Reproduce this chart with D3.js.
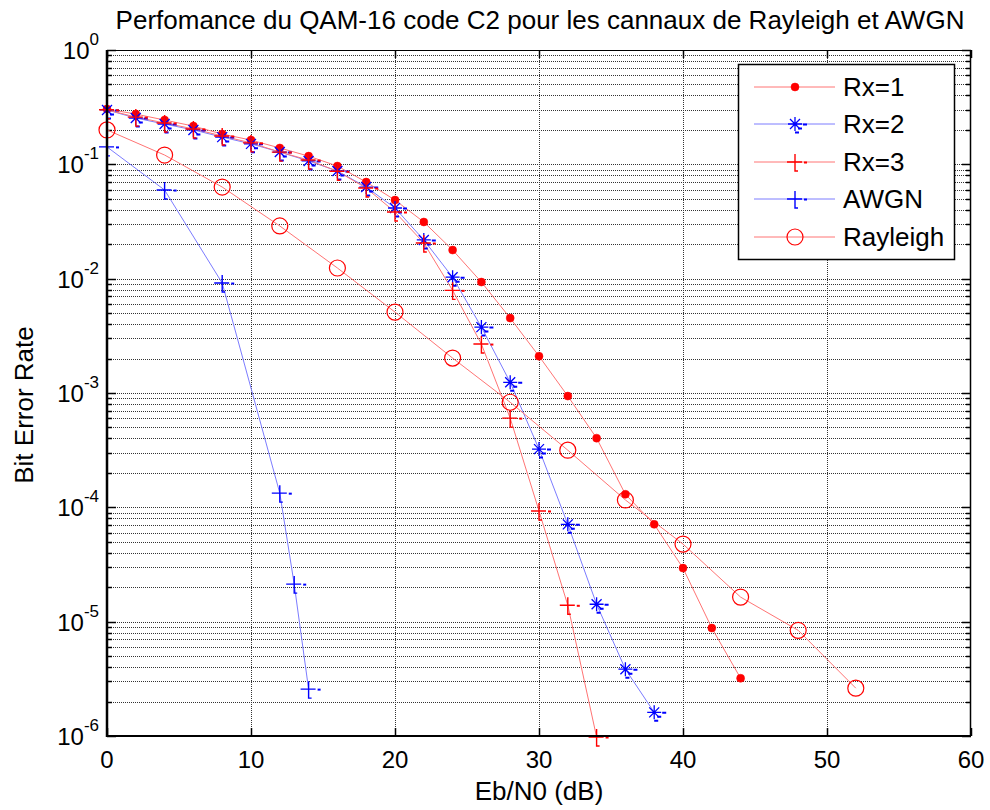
<!DOCTYPE html>
<html>
<head>
<meta charset="utf-8">
<script src="https://cdn.jsdelivr.net/npm/d3@7"></script>
<style>
  html, body { margin: 0; padding: 0; background: #fff; }
  svg { display: block; }
  text { font-family: "Liberation Sans", Arial, sans-serif; fill: #000; }
</style>
</head>
<body>
<svg id="chart" width="990" height="810"></svg>
<script>
// ---------------- data ----------------
const titleText = "Perfomance du QAM-16 code C2 pour les cannaux de Rayleigh et AWGN";
const xLabelText = "Eb/N0 (dB)";
const yLabelText = "Bit Error Rate";
const xTicks = [0, 10, 20, 30, 40, 50, 60];
const yExponents = [0, -1, -2, -3, -4, -5, -6];

const rx1X = [0, 2, 4, 6, 8, 10, 12, 14, 16, 18, 20, 22, 24, 26, 28, 30, 32, 34, 36, 38, 40, 42, 44];
const rx1Y = [0.305, 0.275, 0.244, 0.216, 0.184, 0.163, 0.139, 0.118, 0.0966, 0.070, 0.0487, 0.0313, 0.0178, 0.00934, 0.00452, 0.0021, 0.00094, 0.000403, 0.000130, 7.1e-5, 2.94e-5, 8.8e-6, 3.2e-6];

const rx2X = [0, 2, 4, 6, 8, 10, 12, 14, 16, 18, 20, 22, 24, 26, 28, 30, 32, 34, 36, 38];
const rx2Y = [0.299, 0.254, 0.225, 0.200, 0.173, 0.151, 0.128, 0.107, 0.0874, 0.0633, 0.0415, 0.0218, 0.0103, 0.00377, 0.00124, 0.000323, 7.1e-5, 1.42e-5, 3.84e-6, 1.61e-6];

const rx3X = [0, 2, 4, 6, 8, 10, 12, 14, 16, 18, 20, 22, 24, 26, 28, 30, 32, 34];
const rx3Y = [0.300, 0.259, 0.230, 0.204, 0.177, 0.154, 0.128, 0.109, 0.087, 0.062, 0.0383, 0.0205, 0.0079, 0.00268, 0.000603, 9.3e-5, 1.39e-5, 9.8e-7];

const awgnX = [0, 4, 8, 12, 13, 14];
const awgnY = [0.142, 0.0596, 0.00916, 0.000133, 2.13e-5, 2.57e-6];

const rayX = [0, 4, 8, 12, 16, 20, 24, 28, 32, 36, 40, 44, 48, 52];
const rayY = [0.200, 0.1206, 0.0633, 0.0289, 0.0124, 0.0051, 0.00202, 0.00083, 0.000316, 0.000116, 4.77e-5, 1.64e-5, 8.4e-6, 2.62e-6];

const seriesNames = ["Rx=1", "Rx=2", "Rx=3", "AWGN", "Rayleigh"];

// ---------------- layout ----------------
const svg = d3.select("#chart");
const L = 107, R = 971, T = 50, B = 736;
const x = d3.scaleLinear().domain([0, 60]).range([L, R]);
const y = d3.scaleLog().domain([1e-6, 1]).range([B, T]);

const RED = "#ff0000", BLUE = "#0000ff";
const RED_LINE = "#ff7474", BLUE_LINE = "#7c7cff";

const series = [
  { name: seriesNames[0], xs: rx1X, ys: rx1Y, color: RED, line: RED_LINE, marker: "dot" },
  { name: seriesNames[1], xs: rx2X, ys: rx2Y, color: BLUE, line: BLUE_LINE, marker: "star" },
  { name: seriesNames[2], xs: rx3X, ys: rx3Y, color: RED, line: RED_LINE, marker: "plus" },
  { name: seriesNames[3], xs: awgnX, ys: awgnY, color: BLUE, line: BLUE_LINE, marker: "plus" },
  { name: seriesNames[4], xs: rayX, ys: rayY, color: RED, line: RED_LINE, marker: "circle" }
];

// ---------------- grid ----------------
const grid = svg.append("g");
const minorVals = [];
for (let e = -6; e < 0; e++) {
  for (let m = 1; m <= 9; m++) minorVals.push(m * Math.pow(10, e));
}
minorVals.push(1);
grid.selectAll("line.h").data(minorVals).enter().append("line")
  .attr("x1", L).attr("x2", R)
  .attr("y1", d => Math.round(y(d)) + 0.5).attr("y2", d => Math.round(y(d)) + 0.5)
  .attr("stroke", "#333").attr("stroke-width", 1).attr("stroke-dasharray", "1,1");
grid.selectAll("line.v").data(xTicks.slice(1, -1)).enter().append("line")
  .attr("y1", T).attr("y2", B)
  .attr("x1", d => Math.round(x(d)) + 0.5).attr("x2", d => Math.round(x(d)) + 0.5)
  .attr("stroke", "#333").attr("stroke-width", 1).attr("stroke-dasharray", "1,1");

// ---------------- ticks ----------------
const ticks = svg.append("g").attr("stroke", "#000");
minorVals.forEach(v => {
  const isMajor = Math.abs(Math.log10(v) - Math.round(Math.log10(v))) < 1e-9;
  const len = isMajor ? 9 : 5;
  const yy = Math.round(y(v)) + 0.5;
  ticks.append("line").attr("x1", L).attr("x2", L + len).attr("y1", yy).attr("y2", yy).attr("stroke-width", 1.5);
  ticks.append("line").attr("x1", R).attr("x2", R - len).attr("y1", yy).attr("y2", yy).attr("stroke-width", 1.5);
});
xTicks.forEach(v => {
  const xx = Math.round(x(v)) + 0.5;
  ticks.append("line").attr("x1", xx).attr("x2", xx).attr("y1", B).attr("y2", B - 8).attr("stroke-width", 1.5);
  ticks.append("line").attr("x1", xx).attr("x2", xx).attr("y1", T).attr("y2", T + 8).attr("stroke-width", 1.5);
});

// ---------------- series ----------------
const lineGen = d3.line().x(d => x(d[0])).y(d => y(d[1]));
const plotG = svg.append("g");

function plusPath(s) {
  return `M${-8*s},0H${7*s}M0,${-8*s}V${9*s}H${3*s}`;
}
function drawMarker(g, type, color) {
  if (type === "dot") {
    g.append("circle").attr("r", 4).attr("fill", color).attr("stroke", color).attr("stroke-width", 0.5);
  } else if (type === "circle") {
    g.append("circle").attr("r", 8).attr("fill", "none").attr("stroke", color).attr("stroke-width", 1.2);
  } else if (type === "plus") {
    g.append("path").attr("d", plusPath(1)).attr("fill", "none").attr("stroke", color).attr("stroke-width", 1.4);
    g.append("path").attr("d", "M9,0.5H12").attr("stroke", color).attr("stroke-width", 2);
  } else if (type === "star") {
    g.append("path").attr("d", "M-7,0H7M0,-7V7M-5,-5L5,5M-5,5L5,-5").attr("fill", "none").attr("stroke", color).attr("stroke-width", 1.3);
    g.append("path").attr("d", "M8,0.5H12M3,4.5H7M0,8.5H4").attr("stroke", color).attr("stroke-width", 2);
  }
}

series.forEach(s => {
  const pts = s.xs.map((xv, i) => [xv, s.ys[i]]);
  plotG.append("path").datum(pts)
    .attr("d", lineGen).attr("fill", "none")
    .attr("stroke", s.line).attr("stroke-width", 1);
});
series.forEach(s => {
  const pts = s.xs.map((xv, i) => [xv, s.ys[i]]);
  pts.forEach(p => {
    const g = plotG.append("g").attr("transform", `translate(${x(p[0])},${y(p[1])})`);
    drawMarker(g, s.marker, s.color);
  });
});

// ---------------- axes box ----------------
const box = svg.append("g").attr("stroke", "#000").attr("fill", "none");
box.append("line").attr("x1", L).attr("x2", R).attr("y1", T + 0.5).attr("y2", T + 0.5).attr("stroke-width", 1.2);
box.append("line").attr("x1", R - 0.5).attr("x2", R - 0.5).attr("y1", T).attr("y2", B).attr("stroke-width", 1.5);
box.append("line").attr("x1", L).attr("x2", R).attr("y1", B).attr("y2", B).attr("stroke-width", 2);
box.append("line").attr("x1", L).attr("x2", L).attr("y1", T).attr("y2", B + 1).attr("stroke-width", 2.5);

// ---------------- tick labels ----------------
const labels = svg.append("g");
xTicks.forEach(v => {
  labels.append("text").attr("x", x(v)).attr("y", 768)
    .attr("text-anchor", "middle").attr("font-size", 24).text(v);
});
yExponents.forEach(e => {
  const t = labels.append("text").attr("x", 99).attr("y", y(Math.pow(10, e)) + 9)
    .attr("text-anchor", "end").attr("font-size", 24);
  t.append("tspan").text("10");
  t.append("tspan").attr("dy", -14).attr("font-size", 17).text(String(e));
});

// ---------------- titles ----------------
svg.append("text").attr("x", 540).attr("y", 29).attr("text-anchor", "middle")
  .attr("font-size", 26).text(titleText);
svg.append("text").attr("x", 539).attr("y", 800).attr("text-anchor", "middle")
  .attr("font-size", 26).text(xLabelText);
svg.append("text").attr("transform", "translate(33,405) rotate(-90)")
  .attr("text-anchor", "middle").attr("font-size", 26).text(yLabelText);

// ---------------- legend ----------------
const lg = svg.append("g");
lg.append("rect").attr("x", 738.5).attr("y", 64.5).attr("width", 216).attr("height", 195)
  .attr("fill", "#fff").attr("stroke", "#000").attr("stroke-width", 1.5);
const rowY = [87, 124, 162, 199, 237];
series.forEach((s, i) => {
  const yy = rowY[i];
  lg.append("line").attr("x1", 754).attr("x2", 835).attr("y1", yy).attr("y2", yy)
    .attr("stroke", s.line).attr("stroke-width", 1);
  const g = lg.append("g").attr("transform", `translate(795,${yy})`);
  drawMarker(g, s.marker, s.color);
  lg.append("text").attr("x", 843).attr("y", yy + 9).attr("font-size", 26).text(s.name);
});
</script>
</body>
</html>
